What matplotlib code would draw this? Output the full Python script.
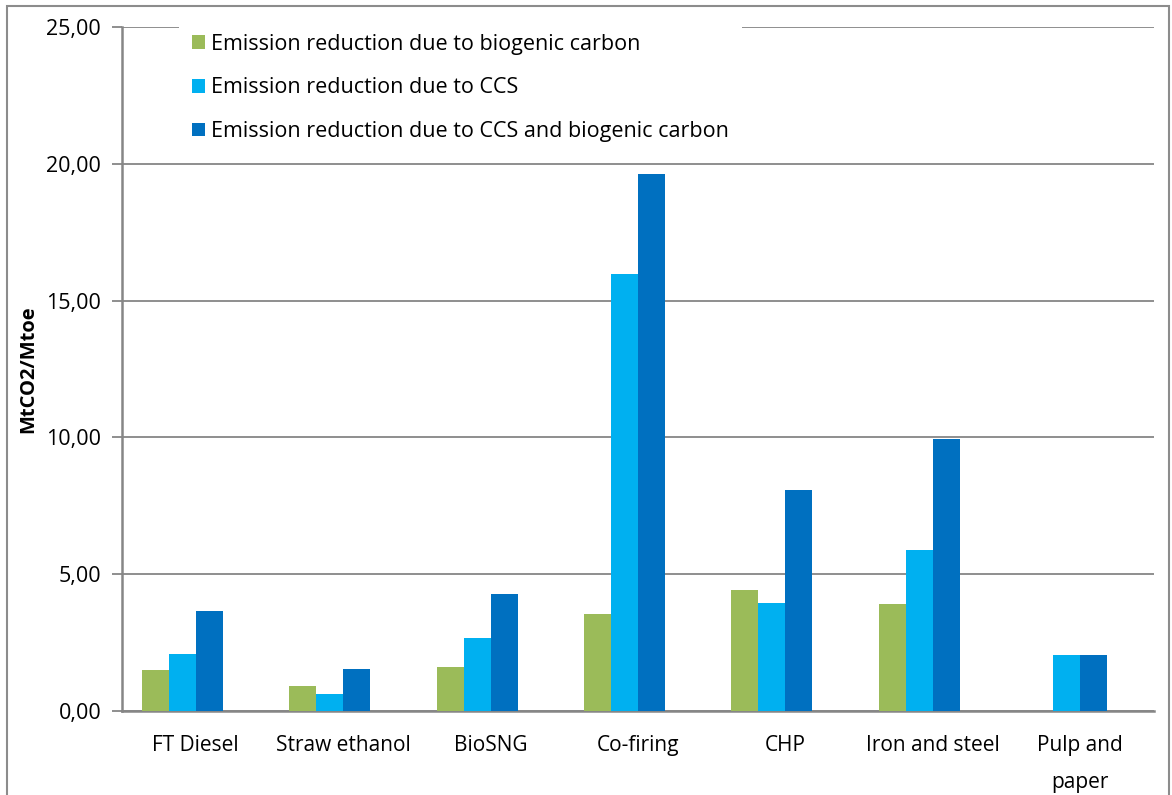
import matplotlib.pyplot as plt
from matplotlib.patches import Patch, Rectangle
import numpy as np

plt.rcParams['font.family'] = ['Open Sans', 'DejaVu Sans']

categories = ["FT Diesel", "Straw ethanol", "BioSNG", "Co-firing", "CHP",
              "Iron and steel", "Pulp and\npaper"]
biogenic = [1.50, 0.91, 1.61, 3.54, 4.41, 3.92, 0.0]
ccs = [2.10, 0.61, 2.68, 15.97, 3.96, 5.89, 2.05]
ccs_biogenic = [3.64, 1.54, 4.29, 19.62, 8.07, 9.93, 2.05]
yticks = [0, 5, 10, 15, 20, 25]
series_names = ["Emission reduction due to biogenic carbon",
                "Emission reduction due to CCS",
                "Emission reduction due to CCS and biogenic carbon"]
colors = ["#9BBB59", "#00B0F0", "#0070C0"]

fig = plt.figure(figsize=(11.72, 7.95), dpi=100)
ax = fig.add_axes([0.1041, 0.1057, 0.8805, 0.8603])

# outer chart frame (bottom runs off the image)
fig.patches.append(Rectangle((0.006, -0.05), 0.9914, 1.0425, transform=fig.transFigure,
                             fill=False, edgecolor="#8c8c8c", linewidth=1.5))

x = np.arange(len(categories))
w = 0.183
# four slots per group, the last one is left empty
for i, (vals, c, name) in enumerate(zip([biogenic, ccs, ccs_biogenic], colors, series_names)):
    ax.bar(x - 1.5 * w + i * w, vals, width=w, color=c, label=name, zorder=3)

ax.set_xlim(-0.5, len(categories) - 0.5)
ax.set_ylim(0, 25)
ax.set_yticks(yticks)
ax.set_yticklabels([f"{v:.2f}".replace(".", ",") for v in yticks], fontsize=15.5)
ax.set_xticks(x)
ax.set_xticklabels(categories, fontsize=15, linespacing=2.0)
ax.tick_params(axis="x", length=0, pad=17)
ax.tick_params(axis="y", length=7, width=1.3, color="#868686", pad=8)
ax.yaxis.grid(True, color="#868686", linewidth=1.3, zorder=0)
ax.set_axisbelow(True)
for s in ["top", "right"]:
    ax.spines[s].set_visible(False)
for s in ["left", "bottom"]:
    ax.spines[s].set_color("#868686")
    ax.spines[s].set_linewidth(1.8)
ax.set_ylabel("MtCO2/Mtoe", fontsize=14.5, fontweight="bold", labelpad=6)

handles = [Patch(facecolor=c, edgecolor="none") for c in colors]
leg = ax.legend(handles, series_names, loc="upper left", bbox_to_anchor=(0.0445, 1.0248),
                fontsize=15.5, frameon=True, facecolor="white", edgecolor="none",
                framealpha=1, fancybox=False, handlelength=0.6, handleheight=0.6,
                handletextpad=0.3, labelspacing=1.05, borderpad=0.6)
leg.set_zorder(5)

fig.savefig("out.png", dpi=100)
